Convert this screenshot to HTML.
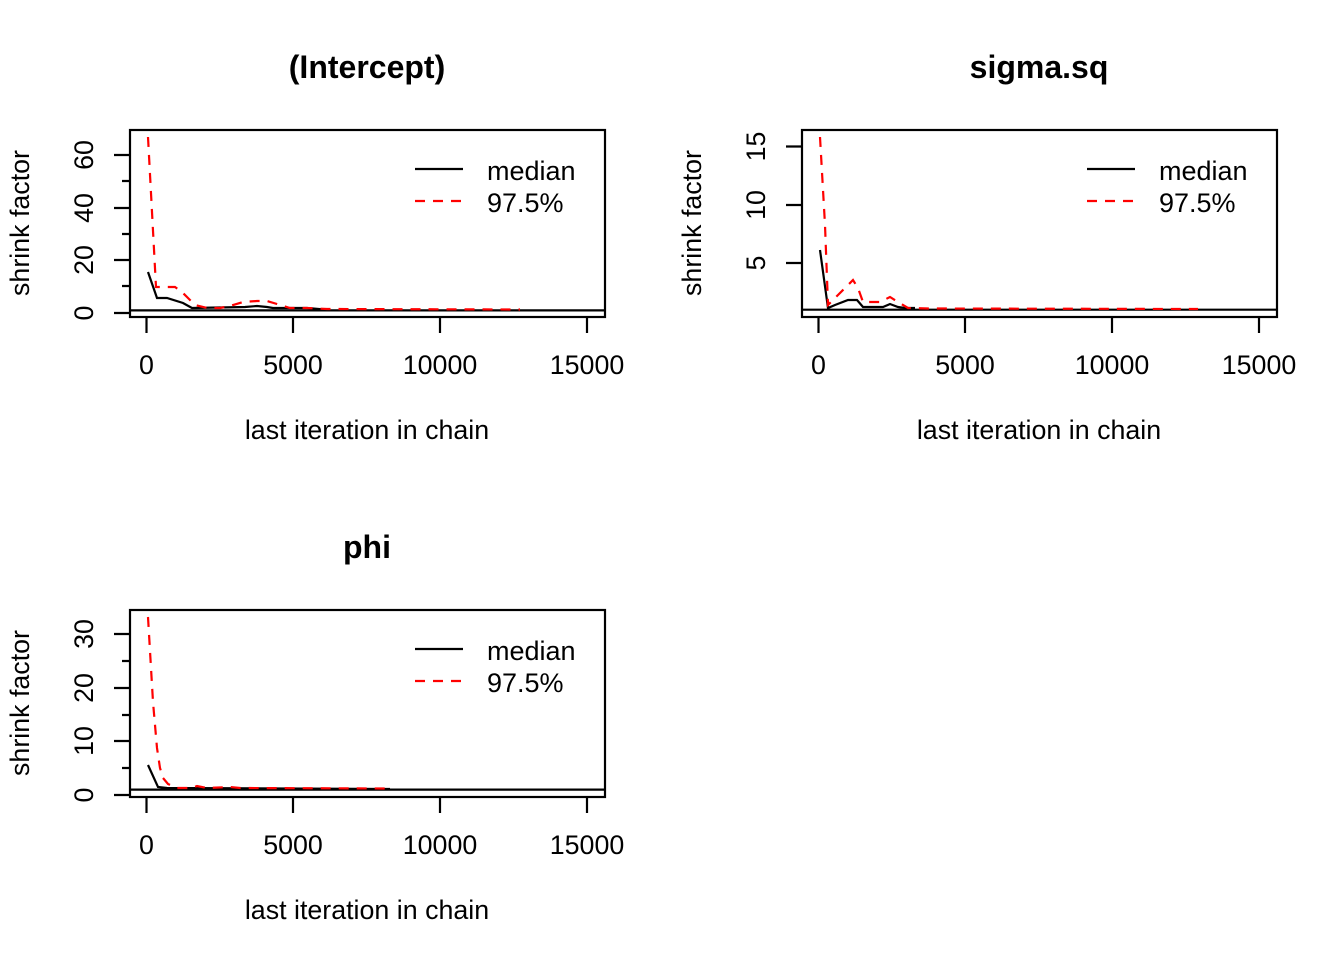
<!DOCTYPE html>
<html><head><style>body{margin:0;background:#fff}svg{display:block}text{font-family:"Liberation Sans",Arial,sans-serif;fill:#000}</style></head><body>
<svg width="1344" height="960" viewBox="0 0 1344 960" xmlns="http://www.w3.org/2000/svg">
<g stroke="#000" stroke-width="2.2" fill="none">
<rect x="130" y="130" width="475" height="187"/>
<path d="M146.5 317v16M293 317v16M440 317v16M587 317v16"/>
<path d="M130 313h-16M130 286h-8M130 260h-16M130 234h-8M130 208h-16M130 181h-8M130 155h-16"/>
<path d="M130 310.4h475"/>
<rect x="802" y="130" width="475" height="187"/>
<path d="M818.5 317v16M965 317v16M1112 317v16M1259 317v16"/>
<path d="M802 263h-16M802 205h-16M802 146.5h-16"/>
<path d="M802 309.7h475"/>
<rect x="130" y="610" width="475" height="187"/>
<path d="M146.5 797v16M293 797v16M440 797v16M587 797v16"/>
<path d="M130 795h-16M130 768h-8M130 741h-16M130 715h-8M130 688h-16M130 661h-8M130 634h-16"/>
<path d="M130 789.6h475"/>
</g>
<g fill="none" stroke-width="2.2">
<polyline stroke="#000" points="148,272 157,298 167,298 183,303 192,308 245,307 257,306 267,307 273,308 307,308 330,310"/>
<polyline stroke="#f00" stroke-dasharray="10,8" points="148,137 156,287 167,287 175,287 182,292 188,298 195,305 207,308 220,308 230,306 243,302 257,301 267,301 277,304 290,308 307,308 327,309 520,309.5"/>
<polyline stroke="#000" points="820,250 828,308 835,305 848,300 857,300 863,307 883,307 890,304 898,307 905,308 915,308"/>
<polyline stroke="#f00" stroke-dasharray="10,8" points="820,137 825,225 828,305 838,295 853,280 858,288 863,302 880,302 890,297 898,302 908,308 928,308.5 1198,309"/>
<polyline stroke="#000" points="148,765 158,787 167,788 390,789"/>
<polyline stroke="#f00" stroke-dasharray="10,8" points="148,617 153,702 157,748 160,768 163,778 168,784 177,788 192,788 197,786 207,788 230,787 240,788 390,788.5"/>
<path stroke="#000" d="M415 169h48M1087 169h48M415 649h48"/>
<path stroke="#f00" stroke-dasharray="10,8" d="M415 201h48M1087 201h48M415 681h48"/>
</g>
<g font-size="27">
<text x="487" y="180">median</text><text x="487" y="212">97.5%</text>
<text x="1159" y="180">median</text><text x="1159" y="212">97.5%</text>
<text x="487" y="660">median</text><text x="487" y="692">97.5%</text>
</g>
<g font-size="32" font-weight="bold" text-anchor="middle">
<text x="367" y="78">(Intercept)</text>
<text x="1039" y="78">sigma.sq</text>
<text x="367" y="558">phi</text>
</g>
<g font-size="26.8" text-anchor="middle">
<text x="146.5" y="374">0</text><text x="293" y="374">5000</text><text x="440" y="374">10000</text><text x="587" y="374">15000</text>
<text x="818.5" y="374">0</text><text x="965" y="374">5000</text><text x="1112" y="374">10000</text><text x="1259" y="374">15000</text>
<text x="146.5" y="854">0</text><text x="293" y="854">5000</text><text x="440" y="854">10000</text><text x="587" y="854">15000</text>
<text x="367" y="439">last iteration in chain</text>
<text x="1039" y="439">last iteration in chain</text>
<text x="367" y="919">last iteration in chain</text>
<text transform="translate(29,223) rotate(-90)">shrink factor</text>
<text transform="translate(701,223) rotate(-90)">shrink factor</text>
<text transform="translate(29,703) rotate(-90)">shrink factor</text>
<text transform="translate(93,313) rotate(-90)">0</text>
<text transform="translate(93,260) rotate(-90)">20</text>
<text transform="translate(93,208) rotate(-90)">40</text>
<text transform="translate(93,155) rotate(-90)">60</text>
<text transform="translate(765,263) rotate(-90)">5</text>
<text transform="translate(765,205) rotate(-90)">10</text>
<text transform="translate(765,146.5) rotate(-90)">15</text>
<text transform="translate(93,795) rotate(-90)">0</text>
<text transform="translate(93,741) rotate(-90)">10</text>
<text transform="translate(93,688) rotate(-90)">20</text>
<text transform="translate(93,634) rotate(-90)">30</text>
</g>
</svg>
</body></html>
